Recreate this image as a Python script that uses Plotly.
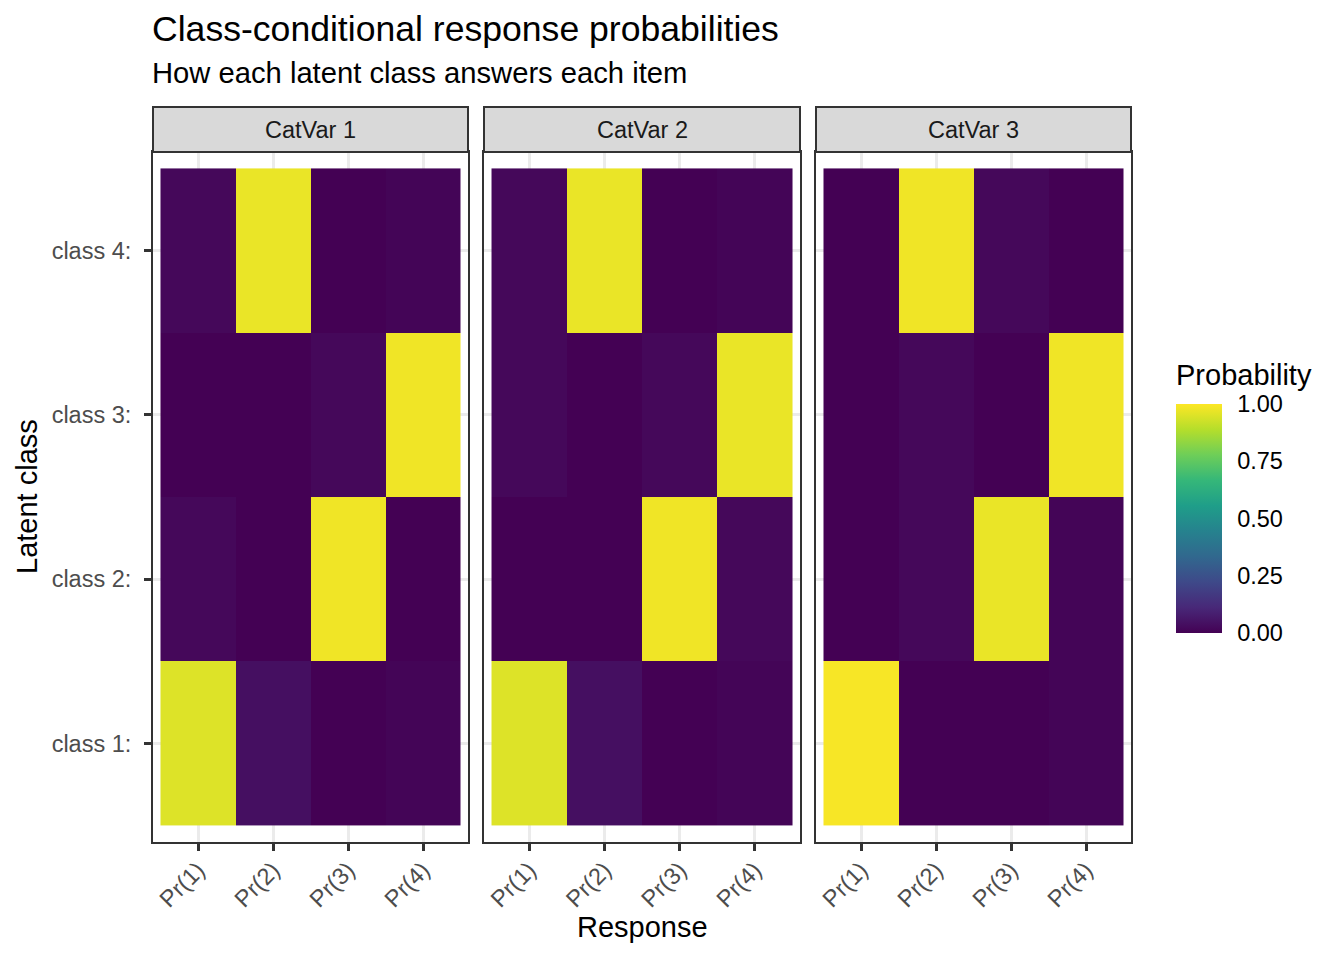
import plotly.graph_objects as go

# facet labels, response categories and latent classes
items = ["CatVar 1", "CatVar 2", "CatVar 3"]
responses = ["Pr(1)", "Pr(2)", "Pr(3)", "Pr(4)"]
classes = ["class 1:", "class 2:", "class 3:", "class 4:"]

# rows = class 1..4, columns = Pr(1)..Pr(4)
catvar1 = [[0.95, 0.04, 0.00, 0.01],
           [0.02, 0.00, 0.98, 0.00],
           [0.00, 0.00, 0.02, 0.98],
           [0.02, 0.97, 0.00, 0.01]]
catvar2 = [[0.95, 0.04, 0.00, 0.01],
           [0.00, 0.00, 0.98, 0.02],
           [0.02, 0.00, 0.02, 0.97],
           [0.02, 0.97, 0.00, 0.01]]
catvar3 = [[0.99, 0.00, 0.00, 0.01],
           [0.00, 0.02, 0.97, 0.01],
           [0.00, 0.02, 0.00, 0.98],
           [0.00, 0.98, 0.02, 0.00]]
probs = [catvar1, catvar2, catvar3]

W, H = 1344, 960
OFF = 8  # page body margin
X0, X1, Y0, Y1 = 153, 1131, 152, 842  # plot area on screen
L, T = X0 - OFF, Y0 - OFF
R, B = W - (X1 - OFF), H - (Y1 - OFF)
pw = X1 - X0
ph = Y1 - Y0


def px_x(x):
    return (x - X0) / pw


def px_y(y):
    return (Y1 - y) / ph


domains = [[px_x(153), px_x(468)], [px_x(484), px_x(800)], [px_x(816), px_x(1131)]]

fig = go.Figure()
font = "Liberation Sans, Arial, sans-serif"

for i, z in enumerate(probs):
    n = "" if i == 0 else str(i + 1)
    fig.add_trace(go.Heatmap(
        x=responses, y=classes, z=z, coloraxis="coloraxis",
        xaxis="x" + n, yaxis="y" + n,
        hovertemplate="%{y} %{x}: %{z:.2f}<extra>" + items[i] + "</extra>",
    ))
    common = dict(
        type="category", range=[-0.6, 3.6], showgrid=True, gridcolor="#EBEBEB",
        gridwidth=2.5, showline=True, mirror=True, linecolor="#333333",
        linewidth=2, zeroline=False, ticks="outside", ticklen=7,
        tickwidth=2.5, tickcolor="#333333",
        tickfont=dict(family=font, size=23.5, color="#4D4D4D"),
    )
    xa = dict(common, domain=domains[i], anchor="y" + n, tickangle=-45,
              categoryorder="array", categoryarray=responses,
              ticklabelstandoff=-4)
    ya = dict(common, domain=[0, 1], anchor="x" + n,
              categoryorder="array", categoryarray=classes)
    if i > 0:
        ya.update(showticklabels=False, ticks="")
    else:
        ya.update(ticklabelstandoff=8)
    fig.update_layout({"xaxis" + n: xa, "yaxis" + n: ya})

    # strip on top of each panel
    fig.add_shape(type="rect", xref="paper", yref="paper",
                  x0=domains[i][0], x1=domains[i][1], y0=1, y1=px_y(107),
                  fillcolor="#D9D9D9", line=dict(color="#333333", width=2),
                  layer="above")
    fig.add_annotation(text=items[i], xref="paper", yref="paper",
                       x=sum(domains[i]) / 2, y=(1 + px_y(107)) / 2,
                       xanchor="center", yanchor="middle", showarrow=False,
                       font=dict(family=font, size=23.5, color="#1A1A1A"))

fig.add_annotation(text="Class-conditional response probabilities",
                   xref="paper", yref="paper", x=px_x(150), y=px_y(29),
                   xanchor="left", yanchor="middle", showarrow=False,
                   font=dict(family=font, size=35.6, color="black"))
fig.add_annotation(text="How each latent class answers each item",
                   xref="paper", yref="paper", x=px_x(150), y=px_y(73),
                   xanchor="left", yanchor="middle", showarrow=False,
                   font=dict(family=font, size=29.2, color="black"))
fig.add_annotation(text="Response", xref="paper", yref="paper",
                   x=px_x(642), y=px_y(927), xanchor="center",
                   yanchor="middle", showarrow=False,
                   font=dict(family=font, size=29, color="black"))
fig.add_annotation(text="Latent class", xref="paper", yref="paper",
                   x=px_x(27), y=px_y(497), textangle=-90,
                   xanchor="center", yanchor="middle", showarrow=False,
                   font=dict(family=font, size=29, color="black"))
fig.add_annotation(text="Probability", xref="paper", yref="paper",
                   x=px_x(1174), y=px_y(375), xanchor="left",
                   yanchor="middle", showarrow=False,
                   font=dict(family=font, size=29, color="black"))

fig.update_layout(
    width=W, height=H,
    margin=dict(l=L, r=R, t=T, b=B),
    paper_bgcolor="white", plot_bgcolor="white",
    coloraxis=dict(
        colorscale="Viridis", cmin=0, cmax=1,
        colorbar=dict(
            x=px_x(1176), xanchor="left", xpad=0, ypad=0,
            y=px_y(518.5), yanchor="middle",
            thickness=46, len=229, lenmode="pixels",
            outlinewidth=0, tickvals=[0, 0.25, 0.5, 0.75, 1.0],
            ticktext=["0.00", "0.25", "0.50", "0.75", "1.00"],
            ticks="outside", ticklen=11, tickcolor="rgba(0,0,0,0)",
            tickfont=dict(family=font, size=23.5, color="black"),
        ),
    ),
    showlegend=False,
)

fig.write_html("out.html")
